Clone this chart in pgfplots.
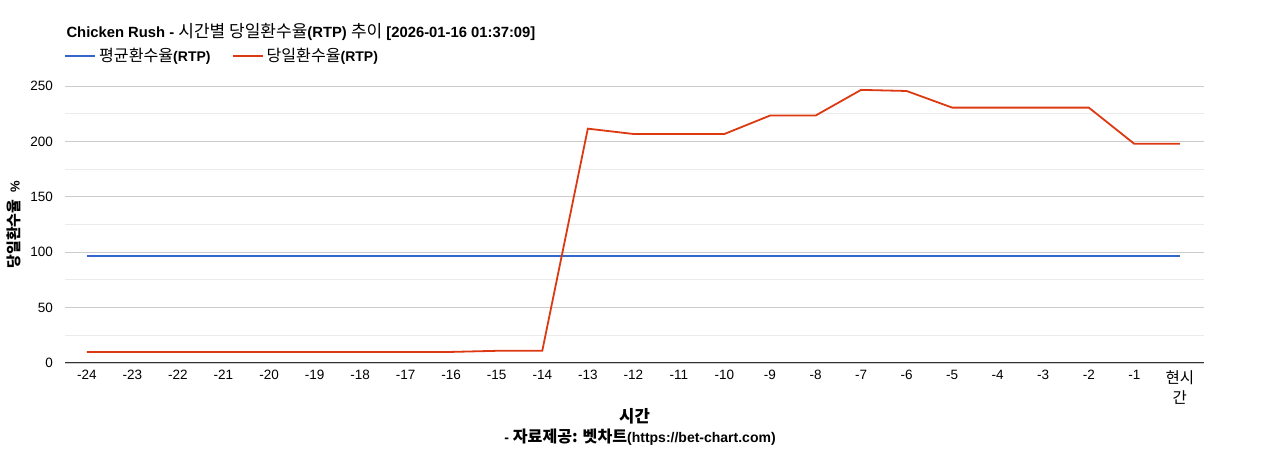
\documentclass[border=0pt]{standalone}
\usepackage{fontspec}
\setmainfont{Liberation Sans}
\newfontfamily\kr{Noto Sans CJK KR}[Scale=1.15]
\usepackage{pgfplots}
\pgfplotsset{compat=1.18}

\definecolor{avgblue}{HTML}{3366CC}
\definecolor{dayred}{HTML}{DC3912}

\begin{document}
\fontsize{13bp}{15bp}\selectfont
\begin{tikzpicture}
\useasboundingbox (0,0) rectangle (1268bp,450bp);
\begin{axis}[
  at={(65bp,87bp)}, anchor=south west,
  scale only axis, width=1139bp, height=277bp,
  xmin=-24.48, xmax=0.53,
  ymin=0, ymax=250,
  xtick={-24,...,0},
  xticklabels={-24,-23,-22,-21,-20,-19,-18,-17,-16,-15,-14,-13,-12,-11,-10,-9,-8,-7,-6,-5,-4,-3,-2,-1,{\kr 현시\\\kr 간}},
  ytick={0,50,...,250},
  minor y tick num=1,
  ymajorgrids, yminorgrids,
  major grid style={draw=black!20, line width=0.9bp},
  minor grid style={draw=black!8, line width=0.9bp},
  major tick length=0pt, minor tick length=0pt,
  axis x line*=bottom, axis y line*=left,
  y axis line style={draw=none},
  x axis line style={draw=black!80, line width=1bp, -},
  /pgf/number format/assume math mode=true,
  tick label style={font=\fontsize{13.5bp}{20bp}\selectfont},
  yticklabel style={anchor=east, inner sep=0pt, xshift=-12bp},
  xticklabel style={anchor=north, inner sep=0pt, yshift=-7bp, align=center},
  title={\bfseries Chicken Rush - {\kr\mdseries 시간별 당일환수율}(RTP) {\kr\mdseries 추이} [2026-01-16 01:37:09]},
  title style={at={(0,1)}, anchor=west, xshift=-3bp, yshift=48bp, font=\fontsize{14.8bp}{17bp}\selectfont},
  xlabel={\kr\bfseries 시간},
  xlabel style={at={(axis description cs:0.5,0)}, anchor=center, yshift=-53bp, font=\fontsize{14.5bp}{17bp}\selectfont},
  ylabel={{\kr\bfseries 당일환수율}\ \ \bfseries\%},
  ylabel style={at={(axis description cs:0,0.5)}, anchor=center, yshift=51bp, font=\fontsize{13bp}{15bp}\selectfont},
  legend columns=2,
  legend style={at={(0,1)}, anchor=west, xshift=-4bp, yshift=30bp, draw=none, fill=none,
    font=\fontsize{14bp}{16bp}\selectfont\bfseries,
    /tikz/every even column/.append style={column sep=18bp},
    nodes={inner sep=3bp}},
  legend image code/.code={\draw[#1, line width=2bp] (0bp,0bp) -- (30bp,0bp);},
]
\addplot[avgblue, line width=1.6bp] coordinates {
(-24,96.6) (-23,96.6) (-22,96.6) (-21,96.6) (-20,96.6) (-19,96.6) (-18,96.6) (-17,96.6)
(-16,96.6) (-15,96.6) (-14,96.6) (-13,96.6) (-12,96.6) (-11,96.6) (-10,96.6) (-9,96.6)
(-8,96.6) (-7,96.6) (-6,96.6) (-5,96.6) (-4,96.6) (-3,96.6) (-2,96.6) (-1,96.6) (0,96.6)};
\addlegendentry{{\kr\mdseries 평균환수율}(RTP)}
\addplot[dayred, line width=1.8bp] coordinates {
(-24,10) (-23,10) (-22,10) (-21,10) (-20,10) (-19,10) (-18,10) (-17,10)
(-16,10) (-15,11) (-14,11) (-13,211.5) (-12,206.7) (-11,206.7) (-10,206.7) (-9,223.3)
(-8,223.3) (-7,246.5) (-6,245.5) (-5,230.5) (-4,230.5) (-3,230.5) (-2,230.5) (-1,197.8) (0,197.8)};
\addlegendentry{{\kr\mdseries 당일환수율}(RTP)}
\end{axis}
\node[font=\fontsize{14bp}{16bp}\selectfont\bfseries, anchor=center]
  at (640bp,13bp) {- {\kr\bfseries 자료제공: 벳차트}(https://bet-chart.com)};
\end{tikzpicture}
\end{document}
